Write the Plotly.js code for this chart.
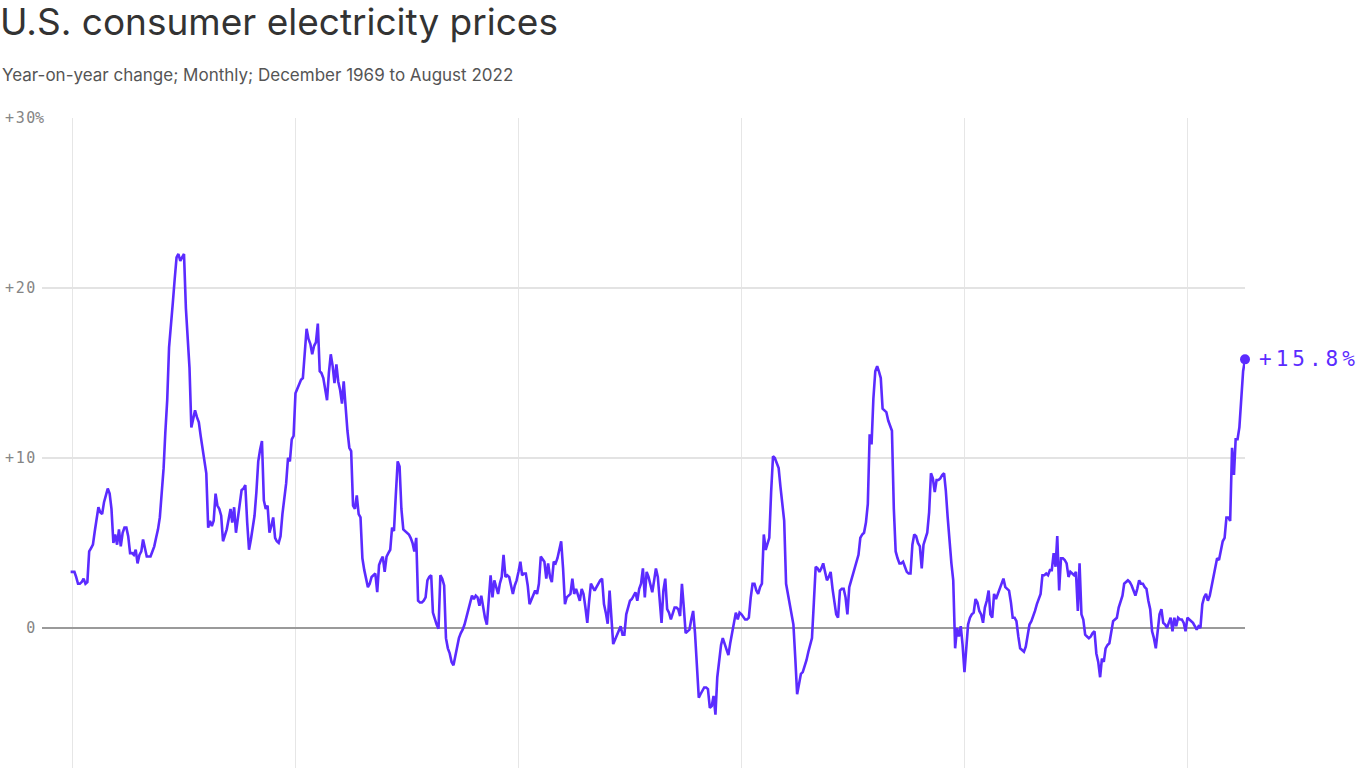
<!DOCTYPE html>
<html><head><meta charset="utf-8">
<script src="https://cdn.plot.ly/plotly-3.0.1.min.js"></script>
<style>
html,body{margin:0;padding:0;background:#fff;overflow:hidden}
#chart{width:1366px;height:768px}
.ytick text{letter-spacing:1.6px}
text[style*="Mono"][style*="21px"]{letter-spacing:4px}
</style></head><body><div id="chart"></div>
<script>
// First observation month (year, month)
const firstYear = 1969;
const firstMonthIndex = 12;

// Year-on-year % change, monthly, Dec 1969 .. Aug 2022
const yoy1969to1979 = [
  3.3,
  3.3, 3.3, 3.0, 2.6, 2.6, 2.7, 2.9, 2.6, 2.7, 4.5, 4.7, 4.9,
  5.7, 6.5, 7.1, 6.8, 6.7, 7.4, 7.8, 8.2, 7.9, 7.0, 5.0, 5.5,
  4.9, 5.8, 4.8, 5.6, 5.9, 5.9, 5.4, 4.4, 4.4, 4.3, 4.6, 3.8,
  4.3, 4.5, 5.2, 4.6, 4.2, 4.2, 4.2, 4.5, 4.8, 5.3, 5.8, 6.5,
  7.8, 9.4, 11.5, 13.4, 16.5, 18.1, 19.1, 20.5, 21.8, 22.0, 21.6, 21.8,
  22.0, 18.8, 17.0, 15.3, 11.8, 12.3, 12.8, 12.4, 12.1, 11.3, 10.6, 9.8,
  9.1, 5.9, 6.3, 6.0, 6.3, 7.9, 7.2, 7.0, 6.6, 5.1, 5.5, 5.8,
  6.4, 7.0, 6.2, 7.1, 5.6, 6.5, 7.5, 8.1, 8.2, 8.4, 6.2, 4.6,
  5.2, 6.1, 6.6, 8.0, 9.8, 10.5, 11.0, 7.5, 7.0, 7.2, 5.6, 6.0,
  6.5, 5.3, 5.1, 5.0, 5.4, 6.7, 7.6, 8.5, 10.0, 9.8, 11.1, 11.3
];
const yoy1980s = [
  13.8, 14.1, 14.4, 14.6, 14.7, 16.2, 17.6, 17.0, 16.7, 16.1, 16.6, 16.8,
  17.9, 15.1, 15.0, 14.7, 14.0, 13.4, 15.0, 16.1, 15.4, 14.4, 15.5, 14.5,
  14.0, 13.2, 14.5, 12.8, 11.6, 10.6, 10.4, 7.2, 7.0, 7.8, 6.7, 6.5,
  4.1, 3.4, 2.9, 2.4, 2.6, 3.0, 3.1, 3.2, 2.1, 3.7, 4.0, 4.2,
  3.3, 4.2, 4.4, 4.6, 5.9, 5.7, 7.8, 9.8, 9.5, 7.0, 5.8, 5.7,
  5.6, 5.5, 5.3, 5.0, 4.5, 5.3, 1.6, 1.5, 1.5, 1.6, 1.8, 2.8,
  3.0, 3.1, 0.9, 0.5, 0.2, -0.05, 3.1, 2.9, 2.5, -0.6, -1.2, -1.5,
  -2.0, -2.2, -1.7, -1.0, -0.6, -0.3, -0.1, 0.2, 0.6, 1.0, 1.5, 1.9,
  1.7, 1.9, 1.8, 1.3, 1.9, 1.2, 0.6, 0.2, 1.5, 3.1, 1.8, 2.8,
  2.4, 2.0, 2.6, 3.0, 4.3, 3.0, 3.1, 3.0, 2.5, 2.0, 2.5, 2.8
];
const yoy1990s = [
  3.3, 3.9, 3.1, 3.2, 3.2, 2.5, 1.4, 1.7, 1.9, 2.2, 2.0, 2.6,
  4.2, 4.0, 3.9, 2.9, 3.8, 3.0, 2.7, 3.9, 3.8, 4.1, 4.6, 5.1,
  3.5, 1.4, 1.8, 1.9, 2.0, 2.9, 2.0, 2.3, 2.0, 1.6, 2.3, 2.0,
  1.2, 0.3, 1.5, 2.6, 2.4, 2.2, 2.4, 2.6, 2.8, 2.9, 1.4, 0.9,
  0.25, 2.2, 0.6, -0.95, -0.7, -0.4, -0.1, 0.1, -0.4, -0.4, 0.8, 1.2,
  1.6, 1.7, 1.9, 2.1, 1.6, 2.3, 2.6, 3.5, 1.8, 3.3, 3.0, 2.6,
  2.1, 2.8, 3.5, 3.0, 1.8, 0.3, 2.2, 2.9, 1.1, 0.9, 0.5, 0.9,
  1.2, 1.2, 1.1, 0.7, 2.6, 1.2, -0.3, -0.2, -0.1, 0.5, 1.0, -0.3,
  -2.5, -4.1, -3.9, -3.7, -3.5, -3.5, -3.6, -4.7, -4.6, -4.0, -5.1, -2.9,
  -1.8, -1.0, -0.6, -0.9, -1.2, -1.6, -0.9, -0.3, 0.4, 0.9, 0.5, 0.9
];
const yoy2000s = [
  0.8, 0.6, 0.5, 0.5, 0.6, 1.8, 2.6, 2.6, 2.2, 2.0, 2.4, 2.6,
  5.5, 4.6, 5.0, 5.3, 8.0, 10.1, 10.0, 9.7, 9.4, 8.3, 7.3, 6.3,
  2.6, 2.0, 1.6, 1.0, 0.2, -1.8, -3.9, -3.3, -2.7, -2.6, -2.3, -1.9,
  -1.4, -1.0, -0.6, 1.5, 3.6, 3.5, 3.3, 3.5, 3.8, 3.3, 2.8, 3.0,
  3.3, 2.3, 1.5, 0.8, 0.6, 2.2, 2.3, 2.3, 1.8, 0.8, 2.4, 2.8,
  3.2, 3.5, 4.0, 4.3, 5.3, 5.5, 5.6, 6.2, 7.3, 11.4, 10.8, 13.5,
  15.1, 15.4, 15.1, 14.7, 12.9, 12.8, 12.7, 12.2, 11.9, 11.6, 7.0, 4.5,
  4.1, 3.8, 3.8, 3.9, 3.6, 3.3, 3.2, 3.2, 4.9, 5.5, 5.4, 5.0,
  4.8, 3.5, 4.9, 5.2, 5.6, 6.8, 9.1, 8.8, 8.0, 8.7, 8.7, 8.8,
  9.0, 9.1, 8.1, 6.5, 4.9, 3.8, 2.8, -1.2, 0.0, -0.5, 0.1, -1.0
];
const yoy2010s = [
  -2.6, -1.0, 0.2, 0.6, 0.8, 0.9, 1.7, 1.5, 1.0, 0.8, 0.3, 1.2,
  1.6, 2.2, 0.8, 0.6, 2.0, 1.7, 2.0, 2.2, 2.5, 2.9, 2.4, 2.3,
  2.2, 1.5, 0.6, 0.6, 0.4, -0.5, -1.2, -1.3, -1.4, -1.1, -0.4, 0.2,
  0.4, 0.7, 1.0, 1.4, 1.7, 2.0, 3.1, 3.1, 3.2, 3.1, 3.4, 3.4,
  4.4, 3.6, 5.4, 2.2, 4.1, 4.1, 4.0, 3.8, 3.0, 3.3, 3.2, 3.1,
  3.3, 1.0, 3.8, 0.8, 0.5, -0.4, -0.5, -0.6, -0.5, -0.3, -0.2, -1.5,
  -2.0, -2.9, -1.8, -2.0, -1.2, -1.0, -0.9, -0.3, 0.4, 0.5, 0.6, 1.2,
  1.6, 1.9, 2.6, 2.7, 2.8, 2.7, 2.5, 2.2, 1.9, 2.3, 2.8, 2.6,
  2.6, 2.4, 2.3, 1.6, 1.1, -0.2, -0.6, -1.2, -0.2, 0.8, 1.1, 0.3,
  0.2, 0.0, 0.3, 0.6, -0.2, 0.6, 0.1, 0.6, 0.5, 0.5, 0.3, -0.2
];
const yoy2020s = [
  0.6, 0.5, 0.4, 0.3, 0.1, -0.1, 0.1, 0.0, 1.4, 1.8, 2.0, 1.6,
  1.9, 2.5, 3.0, 3.4, 4.1, 4.0, 4.5, 5.1, 5.3, 6.5, 6.5, 6.3,
  10.6, 9.0, 11.1, 11.1, 11.8, 13.4, 15.1, 15.8
];

const yTickValues = [0, 10, 20, 30];
const yTickLabels = ['0', '+10', '+20', '+30'];
const yTopSuffix = '%';
const decadeTicks = ['1970-01-01', '1980-01-01', '1990-01-01', '2000-01-01', '2010-01-01', '2020-01-01'];

const titleText = 'U.S. consumer electricity prices';
const subtitleText = 'Year-on-year change; Monthly; December 1969 to August 2022';

const values = [].concat(yoy1969to1979, yoy1980s, yoy1990s, yoy2000s, yoy2010s, yoy2020s);
const dates = values.map((_, i) => {
  const m0 = (firstMonthIndex - 1) + i;
  const y = firstYear + Math.floor(m0 / 12);
  const m = (m0 % 12) + 1;
  return y + '-' + String(m).padStart(2, '0') + '-01';
});
const lastDate = dates[dates.length - 1];
const lastVal = values[values.length - 1];

const purple = '#5b2bff';
const monoFont = '"DejaVu Sans Mono", "Liberation Mono", monospace';
const sansFont = 'Inter, "Noto Sans", sans-serif';

const traces = [
  {
    x: dates, y: values, type: 'scatter', mode: 'lines',
    line: {color: purple, width: 2.6, shape: 'linear'},
    hoverinfo: 'skip', cliponaxis: false
  },
  {
    x: [lastDate], y: [lastVal], type: 'scatter', mode: 'markers',
    marker: {color: purple, size: 10},
    hoverinfo: 'skip', cliponaxis: false
  }
];

const layout = {
  width: 1366, height: 768,
  margin: {l: 42, r: 121, t: 118, b: 0, pad: 0},
  paper_bgcolor: '#ffffff', plot_bgcolor: '#ffffff',
  showlegend: false,
  title: {
    text: titleText,
    font: {family: sansFont, size: 37, color: '#333333'},
    x: 0, xref: 'container', xanchor: 'left',
    y: 1 - 22 / 768, yref: 'container', yanchor: 'middle',
    pad: {l: 0}
  },
  xaxis: {
    type: 'date',
    range: ['1968-08-19', '2022-08-01'],
    tickvals: decadeTicks,
    showticklabels: false,
    showgrid: true, gridcolor: '#e6e6e6', gridwidth: 1.6,
    zeroline: false, showline: false, ticks: '',
    fixedrange: true
  },
  yaxis: {
    range: [-8.24, 30],
    tickvals: yTickValues, ticktext: yTickLabels,
    showgrid: true, gridcolor: '#e3e3e3', gridwidth: 1.2,
    zeroline: true, zerolinecolor: '#9a9a9a', zerolinewidth: 1.6,
    showline: false, ticks: '',
    tickfont: {family: monoFont, size: 15, color: '#858585'},
    ticklabelstandoff: 4,
    fixedrange: true
  },
  annotations: [
    {
      text: subtitleText, xref: 'paper', yref: 'paper',
      x: 0, y: 1, xanchor: 'left', yanchor: 'middle',
      xshift: -42, yshift: 43, showarrow: false,
      font: {family: sansFont, size: 17, color: '#555555'}
    },
    {
      text: yTopSuffix, xref: 'paper', yref: 'y',
      x: 0, y: yTickValues[yTickValues.length - 1],
      xanchor: 'left', yanchor: 'middle', xshift: -8,
      showarrow: false, borderpad: 0,
      font: {family: monoFont, size: 15, color: '#858585'}
    },
    {
      text: '+' + lastVal.toFixed(1) + '%', x: lastDate, y: lastVal,
      xref: 'x', yref: 'y', xanchor: 'left', yanchor: 'middle',
      xshift: 12, showarrow: false,
      font: {family: monoFont, size: 21, color: purple}
    }
  ]
};

Plotly.newPlot('chart', traces, layout, {displayModeBar: false, staticPlot: true});
</script></body></html>
